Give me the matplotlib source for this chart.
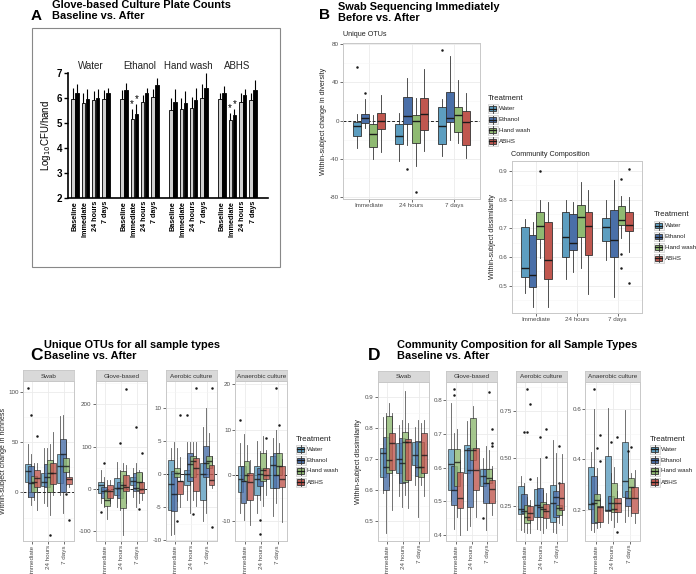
import numpy as np
import matplotlib
matplotlib.use('Agg')
import matplotlib.pyplot as plt
from matplotlib.patches import Rectangle

plt.rcParams['font.family'] = ['Liberation Sans', 'DejaVu Sans']

W, H = 696, 574
fig = plt.figure(figsize=(W / 100, H / 100), dpi=100)


def pax(x0, y0, x1, y1):
    # axes placed by pixel box (top-left origin)
    return fig.add_axes([x0 / W, 1 - y1 / H, (x1 - x0) / W, (y1 - y0) / H])


ov = pax(0, 0, W, H)
ov.set_xlim(0, W)
ov.set_ylim(H, 0)
ov.axis('off')

treat = ['Water', 'Ethanol', 'Hand wash', 'ABHS']
colors = ['#5d9ec0', '#4a6fa8', '#8fba72', '#c0574f']
times = ['Immediate', '24 hours', '7 days']

# ---------------- panel A data ----------------
a_groups = ['Water', 'Ethanol', 'Hand wash', 'ABHS']
a_times = ['Baseline', 'Immediate', '24 hours', '7 days']
a_grey = [5.95, 5.8, 5.9, 5.95, 5.95, 5.15, 5.85, 6.05, 5.5, 5.55, 5.6, 6.0, 5.95, 5.1, 5.85, 5.9]
a_grey_top = [6.4, 6.2, 6.25, 6.3, 6.3, 5.55, 6.1, 6.35, 6.0, 6.0, 6.05, 6.55, 6.2, 5.4, 6.2, 6.2]
a_black = [6.2, 5.95, 6.0, 6.2, 6.3, 5.35, 6.2, 6.5, 5.85, 5.8, 5.9, 6.4, 6.2, 5.3, 6.1, 6.3]
a_black_top = [6.55, 6.35, 6.35, 6.4, 6.6, 5.75, 6.4, 6.8, 6.35, 6.25, 6.4, 7.0, 6.45, 5.55, 6.35, 6.7]
a_stars = [5, 13]

# ---------------- box stats: [whislo, q1, med, q3, whishi], time-major ----------------
b_otu = [[-29, -16, -5.6, -1.4, 7], [-8, -3, 3, 7.3, 22], [-40.5, -28, -14.5, -4, 5.5], [-33, -9, 0, 8.3, 27],
         [-42, -24.6, -16.3, -4, 8.3], [-26, -4, 4.5, 25, 44], [-47, -23, 0, 5.5, 23.5], [-31.5, -9.4, 7, 24, 54],
         [-36.7, -25, -5.6, 14, 22], [-20, -1.4, 3, 29.7, 67], [-24, -12.5, 6, 14, 42], [-39, -25.6, -1.4, 9.7, 29]]
b_otu_out = [(0, 0, 55.7), (0, 1, 29), (1, 1, -51), (1, 2, -75), (2, 0, 73.8)]

b_comp = [[0.473, 0.531, 0.56, 0.703, 0.731], [0.426, 0.496, 0.537, 0.678, 0.722],
          [0.595, 0.661, 0.708, 0.755, 0.80], [0.426, 0.525, 0.591, 0.721, 0.792],
          [0.523, 0.60, 0.671, 0.755, 0.797], [0.547, 0.624, 0.650, 0.748, 0.790],
          [0.562, 0.670, 0.740, 0.782, 0.862], [0.472, 0.607, 0.709, 0.758, 0.832],
          [0.590, 0.656, 0.703, 0.737, 0.800], [0.462, 0.600, 0.660, 0.765, 0.867],
          [0.665, 0.713, 0.727, 0.777, 0.813], [0.617, 0.690, 0.712, 0.755, 0.810]]
b_comp_out = [(0, 2, 0.898), (2, 2, 0.870), (2, 2, 0.609), (2, 2, 0.563), (2, 3, 0.907), (2, 3, 0.509)]

c_swab = [[-4.4, 10.5, 21.5, 28.8, 48.7], [-12.6, -5, 9.5, 26.5, 38], [-7.7, 0, 10.5, 16, 29], [-17.6, 5.6, 14, 22, 29],
          [-11, 6.3, 10.5, 19, 44], [-14, 5.6, 15.5, 28, 44], [-22.6, 0.6, 19, 32, 48.7], [-2.7, 8.2, 19, 29.8, 60],
          [-2.7, 9, 26, 38, 76], [-21, 0.6, 38, 53.7, 77], [7.2, 20.5, 26.5, 33.8, 52.7], [5.6, 8.2, 13, 15.5, 22]]
c_swab_out = [(0, 0, 104), (0, 1, 77), (0, 3, 56.3), (1, 2, -42), (2, 2, -1.7), (2, 3, -27)]

c_glove = [[-34, -10, 9.5, 17, 45], [-42, -22, -6, 5.5, 29], [-70, -40, -26, -2.4, 20], [-34, -22, -6, 9.5, 21],
           [-42, -14, 1.6, 25, 64.5], [-50, -22, 1.6, 17, 45], [-109, -45.7, 9.5, 42.5, 61], [-34, -6, 5.5, 33, 57],
           [-18, 9.5, 19, 29, 49], [-42, -6, 1.6, 37, 61], [-34, -2.4, 17, 41, 45], [-26, -10, 0, 17, 37]]
c_glove_out = [(0, 0, -54), (0, 1, 62), (1, 1, 108), (1, 3, 237), (2, 1, 147), (2, 3, 86), (2, 2, -48)]

c_aer = [[-9.2, -5.4, -1.5, 2.2, 4], [-9, -5.5, -3, 0.5, 4.9], [-4, -0.4, 0.15, 0.9, 4], [-5, -3, -1.1, -1.1, 2.6],
         [-3.9, -1.7, 0, 0.6, 4.9], [-5.9, -1.1, 1.6, 3.2, 4.9], [-3.9, -0.4, 2.0, 2.7, 4.9], [-4.8, -2.6, 0.9, 2.4, 4.9],
         [-7, -3.9, 0, 1.7, 7.2], [-5.9, -0.4, 1.7, 4.2, 10], [0, 0.9, 2.0, 2.7, 6.2], [-2.1, -1.6, -0.9, 1.4, 2.7]]
c_aer_out = [(0, 3, 9), (0, 2, -7), (1, 0, 9), (1, 3, 13), (1, 2, -6), (2, 3, 13), (2, 3, -8)]

c_ana = [[-8.2, -3.7, -0.9, 2.1, 7.1], [-9.7, -6.1, -1.3, 2.1, 9], [-5.3, -1.3, 0, 3.1, 6.7], [-10.8, -5.3, -1.5, 0.5, 3.4],
         [-8.2, -4.2, -0.9, 2, 7.5], [-5.3, -2.3, 0.2, 1.6, 5.3], [-6.8, -1.3, 1.2, 5, 8.6], [-4.2, -0.9, 0, 1.6, 5.6],
         [-8.9, -2.8, 2.2, 4.2, 8.2], [-6, -2.8, 0, 5, 10], [-2.6, 0, 2, 5, 7.1], [-10.3, -2.6, -0.8, 2, 3.5]]
c_ana_out = [(0, 0, 12.2), (1, 3, 8.2), (1, 1, -9.9), (1, 1, -12.9), (2, 1, 19.2), (2, 2, 11)]

d_swab = [[0.59, 0.644, 0.719, 0.735, 0.837], [0.461, 0.601, 0.676, 0.773, 0.85], [0.612, 0.655, 0.698, 0.838, 0.88],
          [0.537, 0.666, 0.752, 0.784, 0.85],
          [0.58, 0.655, 0.70, 0.752, 0.81], [0.547, 0.623, 0.687, 0.768, 0.827], [0.585, 0.628, 0.757, 0.789, 0.921],
          [0.542, 0.633, 0.754, 0.765, 0.816],
          [0.617, 0.682, 0.714, 0.757, 0.805], [0.515, 0.646, 0.676, 0.759, 0.827], [0.617, 0.644, 0.674, 0.754, 0.816],
          [0.58, 0.655, 0.714, 0.784, 0.827]]
d_swab_out = []

d_glove = [[0.505, 0.535, 0.611, 0.655, 0.79], [0.42, 0.49, 0.533, 0.604, 0.703], [0.455, 0.545, 0.617, 0.655, 0.713],
           [0.40, 0.48, 0.511, 0.587, 0.624],
           [0.416, 0.584, 0.653, 0.668, 0.738], [0.426, 0.485, 0.594, 0.658, 0.718], [0.535, 0.624, 0.653, 0.748, 0.782],
           [0.455, 0.533, 0.594, 0.658, 0.683],
           [0.50, 0.545, 0.574, 0.596, 0.629], [0.416, 0.495, 0.554, 0.596, 0.663], [0.495, 0.554, 0.569, 0.596, 0.653],
           [0.46, 0.495, 0.538, 0.564, 0.604]]
d_glove_out = [(0, 1, 0.833), (0, 1, 0.814), (2, 2, 0.823), (2, 0, 0.45), (2, 3, 0.673), (2, 3, 0.664), (2, 3, 0.715)]

d_aer = [[0.122, 0.206, 0.231, 0.354, 0.407], [0.113, 0.21, 0.222, 0.312, 0.368], [0.104, 0.157, 0.192, 0.254, 0.298],
         [0.104, 0.174, 0.213, 0.248, 0.28],
         [0.125, 0.188, 0.254, 0.336, 0.403], [0.122, 0.192, 0.245, 0.342, 0.50], [0.104, 0.192, 0.231, 0.271, 0.333],
         [0.13, 0.183, 0.224, 0.259, 0.315],
         [0.113, 0.166, 0.262, 0.359, 0.597], [0.104, 0.192, 0.294, 0.329, 0.526], [0.157, 0.201, 0.236, 0.254, 0.368],
         [0.148, 0.227, 0.289, 0.368, 0.523]]
d_aer_out = [(0, 1, 0.64), (0, 2, 0.64), (0, 2, 0.865), (0, 3, 0.785), (0, 3, 0.389), (1, 1, 0.615), (1, 3, 0.655),
             (1, 3, 0.505), (2, 2, 0.565), (2, 2, 0.37)]

d_ana = [[0.121, 0.204, 0.222, 0.369, 0.43], [0.114, 0.147, 0.226, 0.335, 0.60], [0.127, 0.151, 0.24, 0.262, 0.365],
         [0.134, 0.151, 0.21, 0.216, 0.246],
         [0.15, 0.195, 0.2, 0.415, 0.605], [0.16, 0.2, 0.229, 0.255, 0.345], [0.134, 0.19, 0.203, 0.308, 0.37],
         [0.154, 0.193, 0.226, 0.246, 0.273],
         [0.154, 0.253, 0.315, 0.47, 0.596], [0.174, 0.216, 0.246, 0.273, 0.438], [0.174, 0.246, 0.292, 0.325, 0.345],
         [0.147, 0.187, 0.246, 0.292, 0.358]]
d_ana_out = [(0, 1, 0.679), (0, 2, 0.444), (0, 3, 0.394), (0, 3, 0.497), (1, 1, 0.47), (1, 3, 0.114), (1, 3, 0.49),
             (2, 1, 0.435), (2, 2, 0.45)]

offs = np.array([-1.5, -0.5, 0.5, 1.5]) * 0.1875
TICK = 4.5


def boxes(ax, rows, outs, width, alpha):
    for i, r in enumerate(rows):
        t, k = divmod(i, 4)
        fl = [v for (tt, kk, v) in outs if tt == t and kk == k]
        st = dict(whislo=r[0], q1=r[1], med=r[2], q3=r[3], whishi=r[4], fliers=fl)
        ax.bxp([st], positions=[t + 1 + offs[k]], widths=width, patch_artist=True, showcaps=False,
               manage_ticks=False,
               boxprops=dict(facecolor=colors[k], edgecolor='#333333', lw=0.6, alpha=alpha),
               medianprops=dict(color='#1a1a1a', lw=1.0, alpha=alpha),
               whiskerprops=dict(color='#333333', lw=0.6, alpha=alpha),
               flierprops=dict(marker='o', ms=1.8, mfc='#1a1a1a', mec='none'))


def gg(ax, ylim, yt, ytl, ymin, rot=0, zero=False):
    ax.set_xlim(0.4, 3.6)
    ax.set_ylim(*ylim)
    ax.set_xticks([1, 2, 3])
    ax.set_xticklabels(times, rotation=rot, va='top', ha='center')
    ax.set_yticks(yt)
    ax.set_yticklabels(ytl)
    ax.set_yticks(ymin, minor=True)
    ax.grid(which='major', color='#ebebeb', lw=0.6)
    ax.grid(which='minor', axis='y', color='#f5f5f5', lw=0.4)
    ax.set_axisbelow(True)
    for s in ax.spines.values():
        s.set_color('#c8c8c8')
        s.set_linewidth(0.7)
    ax.tick_params(which='major', length=2, width=0.5, color='#333333', labelsize=TICK, pad=1,
                   labelcolor='#4d4d4d')
    ax.tick_params(which='minor', length=0)
    if zero:
        ax.axhline(0, color='#222222', lw=0.7, ls=(0, (3, 2)), zorder=1.5)


def strip(x0, x1, y0, y1, label):
    s = pax(x0, y0, x1, y1)
    s.set_facecolor('#d9d9d9')
    s.set_xticks([])
    s.set_yticks([])
    for sp in s.spines.values():
        sp.set_color('#c8c8c8')
        sp.set_linewidth(0.6)
    s.text(0.5, 0.45, label, transform=s.transAxes, ha='center', va='center', fontsize=4.6, color='#333333')


def legend(x, yt, ys):
    ov.text(x, yt, 'Treatment', fontsize=5.7, ha='left', va='center', color='#222222')
    for k, y in enumerate(ys):
        ov.add_patch(Rectangle((x, y - 4.5), 9.5, 9, facecolor='#f2f2f2', edgecolor='#cccccc', lw=0.5))
        ov.plot([x + 4.75, x + 4.75], [y - 4, y + 4], color='#333333', lw=0.6)
        ov.add_patch(Rectangle((x + 1.2, y - 2.6), 7.1, 5.2, facecolor=colors[k], edgecolor='#333333', lw=0.6))
        ov.plot([x + 1.2, x + 8.3], [y, y], color='#1a1a1a', lw=0.9)
        ov.text(x + 10.8, y, treat[k], fontsize=4.5, ha='left', va='center', color='#222222')


def title(xl, xt, yc, yl, letter, lines, lsize):
    ov.text(xl, yl, letter, fontsize=lsize, fontweight='bold', ha='left', va='center')
    ov.text(xt, yc, lines, fontsize=7.9, fontweight='bold', ha='left', va='center', linespacing=1.08)


# ---------------- panel A ----------------
ov.add_patch(Rectangle((32, 28), 248, 239, facecolor='none', edgecolor='#888888', lw=0.8))
title(31, 52, 10.5, 15.5, 'A', 'Glove-based Culture Plate Counts\nBaseline vs. After', 11)

axA = pax(68, 72.7, 268, 198)
pos = np.array([g * 4.75 + t for g in range(4) for t in range(4)], dtype=float)
bw = 0.34
axA.bar(pos - 0.19, np.array(a_grey) - 2, bw, bottom=2, color='#cfcfcf', edgecolor='black', lw=0.6)
axA.bar(pos + 0.19, np.array(a_black) - 2, bw, bottom=2, color='black', edgecolor='black', lw=0.6)
axA.vlines(pos - 0.19, a_grey, a_grey_top, color='black', lw=0.8, clip_on=False)
axA.vlines(pos + 0.19, a_black, a_black_top, color='black', lw=0.8, clip_on=False)
for i in a_stars:
    axA.text(pos[i] - 0.22, a_grey_top[i], '*', ha='center', va='bottom', fontsize=7, clip_on=False)
    axA.text(pos[i] + 0.22, a_black_top[i], '*', ha='center', va='bottom', fontsize=7, clip_on=False)
axA.set_xlim(-0.68, 18.7)
axA.set_ylim(2, 7)
axA.set_yticks([2, 3, 4, 5, 6, 7])
axA.set_yticklabels(['2', '3', '4', '5', '6', '7'], fontweight='bold', fontsize=7)
axA.set_xticks(pos)
axA.set_xticklabels(a_times * 4, rotation=90, fontweight='bold', fontsize=5.2)
axA.tick_params(axis='x', length=0, pad=2)
axA.tick_params(axis='y', length=3, width=1, pad=1)
axA.spines['top'].set_visible(False)
axA.spines['right'].set_visible(False)
axA.spines['left'].set_linewidth(1.2)
axA.spines['bottom'].set_linewidth(1.2)
axA.patch.set_alpha(0)
for g in range(4):
    axA.text(g * 4.75 + 1.5, 7.05, a_groups[g], ha='center', va='bottom', fontsize=7, color='#222222')
axA.set_ylabel('Log$_{10}$CFU/hand', fontsize=7, labelpad=3)

# ---------------- panel B ----------------
title(319, 338, 12.5, 15, 'B', 'Swab Sequencing Immediately\nBefore vs. After', 11)
ov.text(343, 34.5, 'Unique OTUs', fontsize=5.2, ha='left', va='center', color='#222222')
axB1 = pax(343, 43, 480, 199)
gg(axB1, (-82, 81), [-80, -40, 0, 40, 80], ['-80', '-40', '0', '40', '80'], [-60, -20, 20, 60], zero=True)
boxes(axB1, b_otu, b_otu_out, 0.1875, 1.0)
axB1.set_ylabel('Within-subject change in diversity', fontsize=5.2, color='#222222', labelpad=2)
legend(488, 98, [108.5, 119.5, 130.3, 141.3])

ov.text(511, 154, 'Community Composition', fontsize=5.2, ha='left', va='center', color='#222222')
axB2 = pax(512, 161, 642, 313)
gg(axB2, (0.405, 0.934), [0.5, 0.6, 0.7, 0.8, 0.9], ['0.5', '0.6', '0.7', '0.8', '0.9'],
   [0.45, 0.55, 0.65, 0.75, 0.85])
boxes(axB2, b_comp, b_comp_out, 0.1875, 1.0)
axB2.set_ylabel('Within-subject dissimilarity', fontsize=5.2, color='#222222', labelpad=2)
legend(654, 215, [225.7, 236.5, 247.3, 258.3])

# ---------------- panel C ----------------
title(30, 44, 350.5, 355, 'C', 'Unique OTUs for all sample types\nBaseline vs. After', 12.5)
c_specs = [
    (22.7, 74, c_swab, c_swab_out, 'Swab', (-48.4, 111), [0, 50, 100], ['0', '50', '100'], [-25, 25, 75]),
    (95.7, 146.7, c_glove, c_glove_out, 'Glove-based', (-123, 255), [-100, 0, 100, 200],
     ['-100', '0', '100', '200'], [-50, 50, 150, 250]),
    (165.7, 216.7, c_aer, c_aer_out, 'Aerobic culture', (-10.1, 14.1), [-10, -5, 0, 5, 10],
     ['-10', '-5', '0', '5', '10'], [-7.5, -2.5, 2.5, 7.5, 12.5]),
    (235.3, 287.3, c_ana, c_ana_out, 'Anaerobic culture', (-14.4, 20.7), [-10, 0, 10, 20],
     ['-10', '0', '10', '20'], [-5, 5, 15]),
]
for x0, x1, rows, outs, lab, yl, yt, ytl, ymn in c_specs:
    ax = pax(x0, 381, x1, 541)
    gg(ax, yl, yt, ytl, ymn, rot=90, zero=True)
    boxes(ax, rows, outs, 0.36, 0.8)
    strip(x0, x1, 370, 381, lab)
    if lab == 'Swab':
        ax.set_ylabel('Within-subject change in richness', fontsize=5, color='#222222', labelpad=0.5)
legend(296, 439.3, [449.3, 460.3, 471, 482])

# ---------------- panel D ----------------
title(368, 397, 350.5, 355, 'D', 'Community Composition for all Sample Types\nBaseline vs. After', 12.5)
d_specs = [
    (377.7, 429, d_swab, d_swab_out, 'Swab', (0.437, 0.95), [0.5, 0.6, 0.7, 0.8, 0.9],
     ['0.5', '0.6', '0.7', '0.8', '0.9'], [0.45, 0.55, 0.65, 0.75, 0.85]),
    (446.3, 497, d_glove, d_glove_out, 'Glove-based', (0.384, 0.854), [0.4, 0.5, 0.6, 0.7, 0.8],
     ['0.4', '0.5', '0.6', '0.7', '0.8'], [0.45, 0.55, 0.65, 0.75]),
    (515.7, 566.7, d_aer, d_aer_out, 'Aerobic culture', (0.065, 0.905), [0.25, 0.5, 0.75],
     ['0.25', '0.50', '0.75'], [0.125, 0.375, 0.625, 0.875]),
    (585.3, 640, d_ana, d_ana_out, 'Anaerobic culture', (0.078, 0.708), [0.2, 0.4, 0.6],
     ['0.2', '0.4', '0.6'], [0.1, 0.3, 0.5, 0.7]),
]
for x0, x1, rows, outs, lab, yl, yt, ytl, ymn in d_specs:
    ax = pax(x0, 381.7, x1, 540.7)
    gg(ax, yl, yt, ytl, ymn, rot=90)
    boxes(ax, rows, outs, 0.36, 0.8)
    strip(x0, x1, 370.7, 381.7, lab)
    if lab == 'Swab':
        ax.set_ylabel('Within-subject dissimilarity', fontsize=5.2, color='#222222', labelpad=2)
legend(650, 439.3, [449.3, 460.3, 471, 482])

fig.savefig('out.png', dpi=100)
